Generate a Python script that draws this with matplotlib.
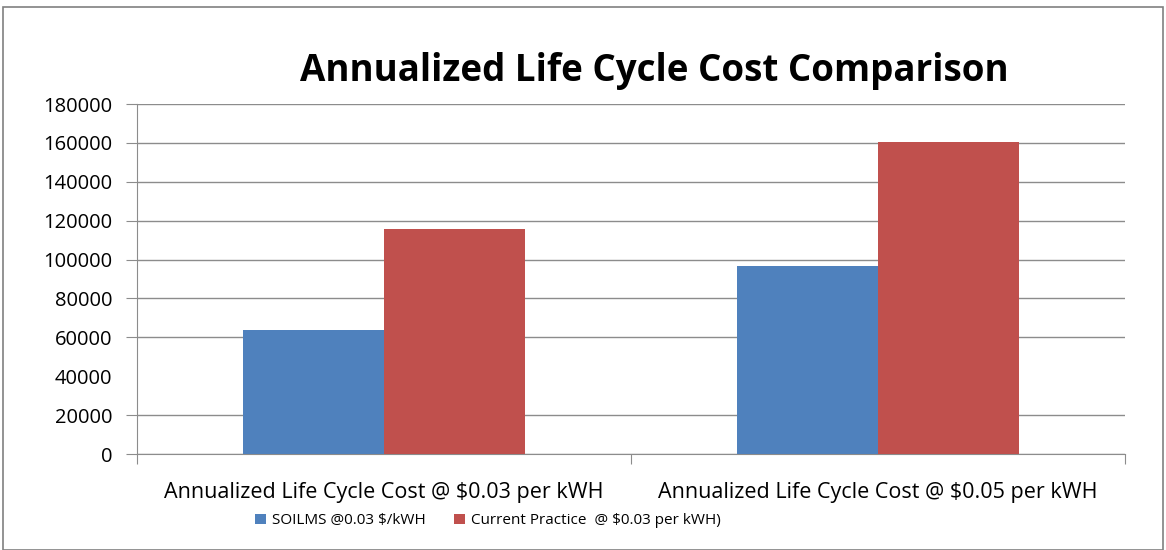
import numpy as np
import matplotlib.pyplot as plt
from matplotlib.patches import Rectangle

# data
categories = ['Annualized Life Cycle Cost @ $0.03 per kWH',
              'Annualized Life Cycle Cost @ $0.05 per kWH']
soilms = [64000, 96700]
current = [115600, 160600]
series_names = ['SOILMS @0.03 $/kWH', 'Current Practice  @ $0.03 per kWH)']
yticks = [0, 20000, 40000, 60000, 80000, 100000, 120000, 140000, 160000, 180000]

blue = '#4F81BD'
red = '#C0504D'

plt.rcParams['font.family'] = ['Open Sans', 'DejaVu Sans']

fig = plt.figure(figsize=(11.66, 5.5), dpi=100)
ax = fig.add_axes([0.1175, 0.1745, 0.8473, 0.6364])

# outer chart border
fig.patches.append(Rectangle((0.003, 0.0), 0.994, 0.987, transform=fig.transFigure,
                             fill=False, edgecolor='#808080', linewidth=1.2))

x = np.arange(len(categories))
w = 0.2857
ax.bar(x - w / 2, soilms, w, color=blue, label=series_names[0], zorder=3)
ax.bar(x + w / 2, current, w, color=red, label=series_names[1], zorder=3)

ax.set_xlim(-0.5, 1.5)
ax.set_ylim(0, 180000)
ax.set_yticks(yticks)
ax.set_yticklabels([str(v) for v in yticks], fontsize=14.5)
ax.yaxis.grid(True, color='#8c8c8c', linewidth=1, zorder=0)
ax.set_axisbelow(True)

# the 40000 line is not drawn in the original
t40 = ax.yaxis.get_major_ticks()[2]
t40.gridline.set_visible(False)
t40.tick1line.set_visible(False)

ax.set_xticks([-0.5, 0.5, 1.5])
ax.set_xticklabels([])
ax.set_xticks(x, minor=True)
ax.set_xticklabels(categories, minor=True, fontsize=15.5)
ax.tick_params(axis='x', which='minor', length=0, pad=20)
ax.tick_params(axis='x', which='major', length=7, color='#8c8c8c')
ax.tick_params(axis='y', length=8, color='#8c8c8c', pad=10)

for s in ['top', 'right']:
    ax.spines[s].set_visible(False)
for s in ['left', 'bottom']:
    ax.spines[s].set_color('#8c8c8c')

fig.text(0.561, 0.87, 'Annualized Life Cycle Cost Comparison', ha='center', va='center',
         fontsize=26.5, fontweight='bold')

fig.legend(loc='center', bbox_to_anchor=(0.4185, 0.053), ncol=2, frameon=False,
           fontsize=11, handlelength=0.7, handleheight=0.7, handletextpad=0.4,
           columnspacing=1.9)

fig.savefig('out.png', dpi=100)
